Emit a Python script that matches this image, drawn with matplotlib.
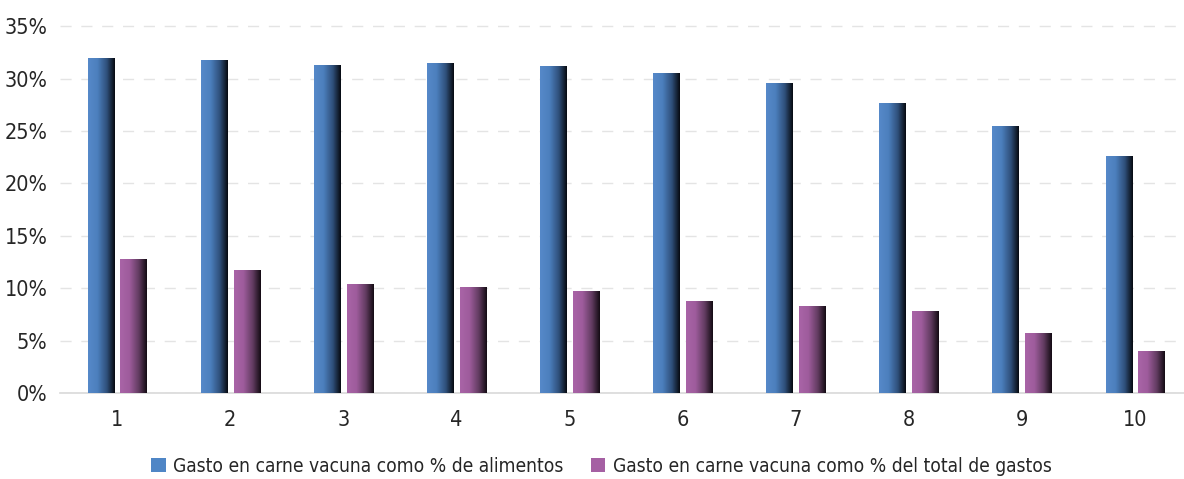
import matplotlib.pyplot as plt
import numpy as np
from matplotlib.colors import LinearSegmentedColormap
from matplotlib.patches import Patch

plt.rcParams["font.family"] = ["DejaVu Sans"]
plt.rcParams["font.stretch"] = "condensed"

deciles = [1, 2, 3, 4, 5, 6, 7, 8, 9, 10]
pct_alimentos = [31.9, 31.7, 31.25, 31.4, 31.15, 30.45, 29.5, 27.6, 25.45, 22.6]
pct_total = [12.75, 11.7, 10.4, 10.1, 9.7, 8.75, 8.25, 7.8, 5.65, 3.95]
labels = ["Gasto en carne vacuna como % de alimentos",
          "Gasto en carne vacuna como % del total de gastos"]

BLUE = "#4f86c6"
PURPLE = "#a560a3"
blue_cmap = LinearSegmentedColormap.from_list(
    "b", [(0, "#5689c9"), (0.35, "#4c7fbd"), (0.7, "#2f507b"), (1, "#070b12")])
purple_cmap = LinearSegmentedColormap.from_list(
    "p", [(0, "#a964a7"), (0.35, "#9e5c9c"), (0.7, "#623c61"), (1, "#140c14")])

WIDTH = 0.23
OFFSET = 0.145

fig = plt.figure(figsize=(11.84, 4.79), dpi=100)
ax = fig.add_axes([0.0507, 0.1795, 0.9493, 0.768])

grad = np.linspace(0, 1, 64).reshape(1, -1)


def gradient_bars(xs, vals, cmap):
    # each bar is a small image with a left-to-right shading
    for x, v in zip(xs, vals):
        ax.imshow(grad, cmap=cmap, aspect="auto", interpolation="bilinear",
                  extent=[x - WIDTH / 2, x + WIDTH / 2, 0, v], zorder=3)


x = np.array(deciles, dtype=float)
gradient_bars(x - OFFSET, pct_alimentos, blue_cmap)
gradient_bars(x + OFFSET, pct_total, purple_cmap)

ax.set_xlim(0.496, 10.434)
ax.set_ylim(0, 35.1)
ax.set_yticks(np.arange(0, 36, 5))
ax.set_yticklabels([f"{t}%" for t in range(0, 36, 5)])
ax.set_xticks(deciles)
ax.set_xticklabels([str(d) for d in deciles])

ax.yaxis.grid(True, color="#e4e4e4", linestyle=(0, (8, 7)), linewidth=1.0)
ax.set_axisbelow(True)
for side in ["top", "right", "left"]:
    ax.spines[side].set_visible(False)
ax.spines["bottom"].set_color("#d9d9d9")
ax.spines["bottom"].set_linewidth(1.2)
ax.tick_params(axis="both", length=0, labelsize=15.5, colors="#262626")
ax.tick_params(axis="y", pad=9)
ax.tick_params(axis="x", pad=12)

handles = [Patch(facecolor=BLUE), Patch(facecolor=PURPLE)]
fig.legend(handles, labels, loc="lower center", ncol=2, frameon=False,
           fontsize=13.8, handlelength=0.75, handleheight=0.75,
           handletextpad=0.4, columnspacing=1.4, bbox_to_anchor=(0.508, -0.03),
           labelcolor="#262626")

fig.savefig("out.png", dpi=100)
